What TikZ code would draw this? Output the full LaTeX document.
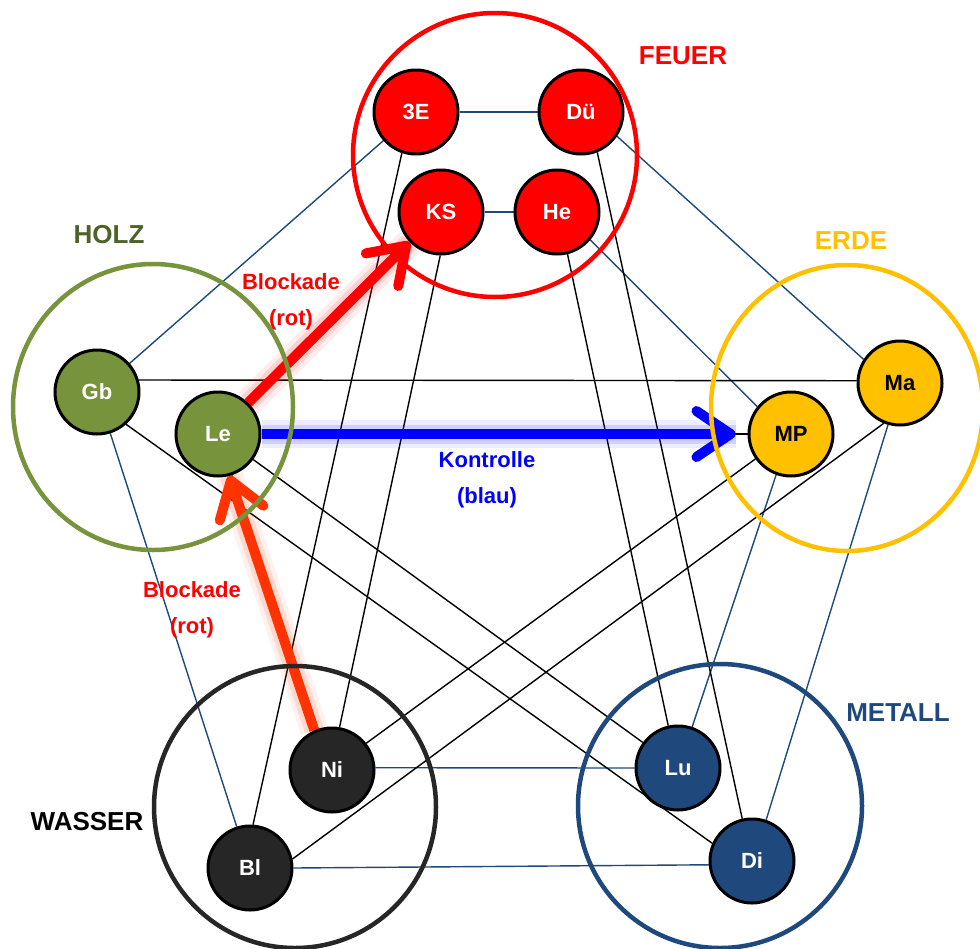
\documentclass[tikz,border=0pt]{standalone}
\usepackage{fontspec}
\setmainfont{Liberation Sans}
\usetikzlibrary{arrows.meta,backgrounds}
\definecolor{feuer}{HTML}{FF0000}
\definecolor{holz}{HTML}{77933C}
\definecolor{holzlab}{HTML}{4F6228}
\definecolor{erde}{HTML}{FFC000}
\definecolor{wasser}{HTML}{262626}
\definecolor{metall}{HTML}{1F497D}
\definecolor{thinblue}{HTML}{1F497D}
\definecolor{orred}{HTML}{FF3300}
\definecolor{kontrblau}{HTML}{0000FF}
\begin{document}
\begin{tikzpicture}[x=1pt,y=-1pt,
  elem/.style={circle, draw=black, line width=3pt, minimum size=84pt, inner sep=0pt,
    font=\fontsize{22}{24}\selectfont\bfseries, text=white},
  ring/.style={line width=4.5pt},
  title/.style={font=\fontsize{26}{28}\selectfont\bfseries},
  lab/.style={font=\fontsize{22}{36}\selectfont\bfseries, align=center},
  sheng/.style={draw=thinblue, line width=1.4pt},
  ko/.style={draw=black, line width=1.4pt},
  bigarrow/.style={line width=10pt, -{Straight Barb[length=34pt,width=46pt,round]},
    preaction={draw=#1, line width=28pt, opacity=0.07, arrows=-},
    preaction={draw=#1, line width=19pt, opacity=0.12, arrows=-},
    draw=#1},
]
\useasboundingbox (0,0) rectangle (980,948);

% big rings
\draw[ring, draw=feuer]  (495,155) circle [radius=142];
\draw[ring, draw=holz]   (153,407) ellipse [x radius=140, y radius=143];
\draw[ring, draw=erde]   (847,408) ellipse [x radius=136, y radius=143];
\draw[ring, draw=wasser] (295,807) circle [radius=141];
\draw[ring, draw=metall] (720,806) circle [radius=142];

% element nodes
\node[elem, fill=feuer] (E3) at (416,112) {3E};
\node[elem, fill=feuer] (Du) at (581,112) {Dü};
\node[elem, fill=feuer] (KS) at (441,212) {KS};
\node[elem, fill=feuer] (He) at (557,212) {He};
\node[elem, fill=holz] (Gb) at (97,392) {Gb};
\node[elem, fill=holz] (Le) at (218,434) {Le};
\node[elem, fill=erde, text=black] (Ma) at (900,383) {Ma};
\node[elem, fill=erde, text=black] (MP) at (791,434) {MP};
\node[elem, fill=wasser] (Ni) at (332,770) {Ni};
\node[elem, fill=wasser] (Bl) at (250,868) {Bl};
\node[elem, fill=metall] (Lu) at (678,768) {Lu};
\node[elem, fill=metall] (Di) at (752,861) {Di};

% titles
\node[title, text=feuer] (tF) at (683,56) {FEUER};
\node[title, text=holzlab] (tH) at (109,235) {HOLZ};
\node[title, text=erde] (tE) at (851,241) {ERDE};
\node[title, text=black] (tW) at (87,822) {WASSER};
\node[title, text=metall] (tM) at (898,713) {METALL};

% labels
\node[lab, text=feuer] (lb1) at (291,302) {Blockade\\(rot)};
\node[lab, text=feuer] (lb2) at (192,610) {Blockade\\(rot)};
\node[lab, text=kontrblau] (lk) at (487,480) {Kontrolle\\(blau)};

\begin{scope}[on background layer]
  % generating (blue) connections
  \draw[sheng] (E3.east) -- (Du.west);
  \draw[sheng] (KS.east) -- (He.west);
  \draw[sheng] (Gb) -- (E3);
  \draw[sheng] (Le) -- (KS);
  \draw[sheng] (Du.-34) -- (Ma.147);
  \draw[sheng] (He.-40) -- (MP.141);
  \draw[sheng] (Gb) -- (Bl);
  \draw[sheng] (Le) -- (Ni);
  \draw[sheng] (Ni.3) -- (Lu.west);
  \draw[sheng] (Bl.east) -- (Di.185);
  \draw[sheng] (MP.-110) -- (Lu.71);
  \draw[sheng] (Ma.-106) -- (Di.71);
  % controlling (black) connections
  \draw[ko] (Gb.16) -- (Ma.177);
  \draw[ko] (Le.east) -- (MP.west);
  \draw[ko] (Ma.-112) -- (Bl.12);
  \draw[ko] (MP.-145) -- (Ni.38);
  \draw[ko] (Bl.86) -- (E3.-109);
  \draw[ko] (Ni.80) -- (KS.-91);
  \draw[ko] (Du.-68) -- (Di.103);
  \draw[ko] (He.-76) -- (Lu.103);
  \draw[ko] (Lu) -- (Le);
  \draw[ko] (Di.156) -- (Gb.-48);
  % big arrows
  \draw[bigarrow=kontrblau, shorten >=12pt] (Le.east) -- (MP.west);
  \draw[bigarrow=feuer] (Le.46) -- (KS.-136);
  \draw[bigarrow=orred] (Ni.114) -- (Le.-75);
\end{scope}
\end{tikzpicture}
\end{document}
